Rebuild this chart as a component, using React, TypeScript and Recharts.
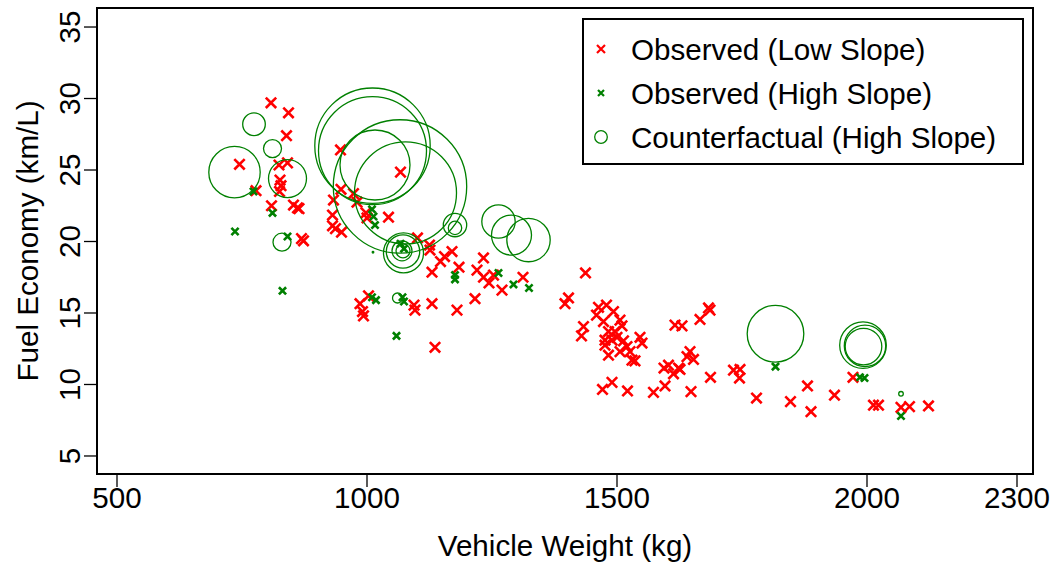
import React from 'react';
import { ScatterChart, Scatter, XAxis, YAxis, ReferenceArea, Legend } from 'recharts';

const RED = '#ff0000';
const GREEN = '#008000';
const FONT = '"Liberation Sans", Arial, Helvetica, sans-serif';
const FONT_SIZE = 29.6;

// Axis setup
const xTicks = [500, 1000, 1500, 2000, 2300];
const yTicks = [5, 10, 15, 20, 25, 30, 35];
const xDomain: [number, number] = [460, 2332];
const yDomain: [number, number] = [3.74, 36.33];

// Observed vehicles, low-slope group: [weight kg, fuel economy km/L]
const lowSlopeObserved: [number, number][] = [
  [808, 29.7], [843, 29.0], [839, 27.4], [947, 26.4], [745, 25.4], [824, 25.35], [841, 25.5],
  [1067, 24.85], [826, 24.3], [828, 23.9], [825, 23.5], [778, 23.55], [948, 23.65], [973, 23.35],
  [933, 22.9], [980, 22.75], [809, 22.5], [853, 22.55], [861, 22.35], [864, 22.3], [931, 21.85],
  [998, 22.0], [1000, 21.65], [1043, 21.7], [931, 21.1], [937, 20.9], [949, 20.65], [1101, 20.25],
  [869, 20.2], [873, 20.05],
  [1125, 19.75], [1126, 19.4], [1170, 19.3], [1155, 18.95], [1147, 18.6], [1233, 18.85], [1184, 18.2],
  [1130, 17.85], [1220, 18.0], [1233, 17.5], [1244, 17.1], [1253, 17.65], [1270, 16.6], [1312, 17.5],
  [1216, 16.0], [1180, 15.2], [1130, 15.65], [1094, 15.55], [1096, 15.2], [986, 15.65], [991, 15.1],
  [993, 14.8], [1003, 16.2], [1136, 12.6],
  [1437, 17.8], [1396, 15.65], [1403, 16.05], [1433, 14.05], [1429, 13.4], [1479, 15.55], [1463, 15.4],
  [1493, 15.1], [1459, 14.85], [1473, 14.4], [1506, 14.5], [1510, 14.1], [1496, 13.7], [1483, 13.7],
  [1476, 13.1], [1490, 13.1], [1500, 13.3], [1513, 13.05], [1476, 12.75], [1520, 12.65], [1483, 12.05],
  [1526, 12.3], [1530, 11.7], [1546, 13.3], [1550, 12.9], [1506, 12.3], [1536, 11.65],
  [1616, 14.15], [1630, 14.1], [1666, 14.55], [1683, 15.35], [1686, 15.2], [1646, 12.3], [1653, 11.75],
  [1640, 11.95], [1623, 11.15], [1603, 11.35], [1594, 11.15], [1613, 10.75], [1626, 11.05], [1596, 9.9],
  [1648, 9.5], [1573, 9.45], [1521, 9.55], [1490, 10.15], [1471, 9.65], [1687, 10.5], [1733, 11.0],
  [1746, 11.05], [1745, 10.45], [1779, 9.05],
  [1847, 8.8], [1881, 9.9], [1888, 8.1], [1935, 9.25], [1972, 10.5], [2013, 8.55], [2023, 8.55],
  [2068, 8.4], [2085, 8.45], [2123, 8.5],
];

// Observed vehicles, high-slope group: [weight kg, fuel economy km/L]
const highSlopeObserved: [number, number][] = [
  [773, 23.5], [811, 22.0], [1010, 22.25], [1013, 21.75], [1016, 21.15], [736, 20.7], [841, 20.35],
  [831, 16.55], [1067, 19.85], [1074, 19.5], [1176, 17.65], [1176, 17.35], [1263, 17.8], [1293, 17.0],
  [1324, 16.75], [1071, 16.1], [1074, 15.8], [1010, 16.1], [1018, 15.9], [1059, 13.4], [1817, 11.25],
  [1986, 10.5], [1995, 10.45], [2068, 7.8],
];

// Counterfactual outcomes, high-slope group: [weight kg, fuel economy km/L, bubble scale]
const highSlopeCounterfactual: [number, number, number][] = [
  [774, 28.2, 2.26], [811, 26.5, 1.8], [735, 24.85, 5.14], [841, 24.4, 3.8], [830, 19.95, 1.8],
  [1011, 26.7, 11.54], [1011, 26.35, 10.8], [1016, 25.35, 7.0], [1066, 23.85, 13.34], [1077, 23.4, 10.2],
  [1176, 21.15, 2.34], [1176, 20.95, 1.34], [1073, 19.2, 4.0], [1072, 19.3, 3.34], [1070, 19.35, 2.0],
  [1072, 19.35, 1.4], [1263, 21.4, 3.34], [1289, 20.45, 4.0], [1323, 20.1, 4.34], [1061, 16.05, 1.0],
  [1817, 13.55, 5.66], [1992, 12.75, 4.66], [1996, 12.7, 4.14], [1993, 12.65, 3.66], [2068, 9.35, 0.46],
  [1012, 19.25, 0.16],
];

const lowData = lowSlopeObserved.map(([w, e]) => ({ w, e }));
const highData = highSlopeObserved.map(([w, e]) => ({ w, e }));
const cfData = highSlopeCounterfactual.map(([w, e, s]) => ({ w, e, s }));

const BUBBLE_UNIT = 5;

const crossPath = (cx: number, cy: number, h: number) =>
  `M${cx - h},${cy - h}L${cx + h},${cy + h}M${cx - h},${cy + h}L${cx + h},${cy - h}`;

const RedCross = (p: any) => (
  <path d={crossPath(p.cx, p.cy, 5.2)} stroke={RED} strokeWidth={2.6} fill="none" />
);
const GreenCross = (p: any) => (
  <path d={crossPath(p.cx, p.cy, 3.6)} stroke={GREEN} strokeWidth={2.6} fill="none" />
);
const Bubble = (p: any) => (
  <circle cx={p.cx} cy={p.cy} r={Math.max(p.payload.s * BUBBLE_UNIT, 0.6)} fill="none" stroke={GREEN} strokeWidth={1.3} />
);

const XTick = (p: any) => (
  <text x={p.x} y={p.y + 21} textAnchor="middle" fontFamily={FONT} fontSize={FONT_SIZE} fill="#000">
    {p.payload.value}
  </text>
);

const YTick = (p: any) => {
  const bx = p.x - 4;
  return (
    <text x={bx} y={p.y} transform={`rotate(-90 ${bx} ${p.y})`} textAnchor="middle" fontFamily={FONT} fontSize={FONT_SIZE} fill="#000">
      {p.payload.value}
    </text>
  );
};

const XTitle = (p: any) => {
  const vb = p.viewBox || { x: 97, y: 474, width: 936, height: 92 };
  return (
    <text x={vb.x + vb.width / 2} y={vb.y + 82} textAnchor="middle" fontFamily={FONT} fontSize={FONT_SIZE} fill="#000">
      Vehicle Weight (kg)
    </text>
  );
};

const YTitle = (p: any) => {
  const vb = p.viewBox || { x: 0, y: 8, width: 97, height: 466 };
  const bx = vb.x + 38;
  const cy = vb.y + vb.height / 2;
  return (
    <text x={bx} y={cy} transform={`rotate(-90 ${bx} ${cy})`} textAnchor="middle" fontFamily={FONT} fontSize={FONT_SIZE} fill="#000">
      Fuel Economy (km/L)
    </text>
  );
};

const legendRows = [
  { label: 'Observed (Low Slope)', kind: 'low' },
  { label: 'Observed (High Slope)', kind: 'high' },
  { label: 'Counterfactual (High Slope)', kind: 'cf' },
];

const LegendBox = () => (
  <svg width={442} height={147} style={{ display: 'block' }}>
    <rect x={1} y={1} width={440} height={145} fill="#fff" stroke="#000" strokeWidth={2} />
    {legendRows.map((row, i) => {
      const cy = 31 + i * 44;
      let marker;
      if (row.kind === 'low') marker = <path d={crossPath(19, cy, 4)} stroke={RED} strokeWidth={2.2} fill="none" />;
      else if (row.kind === 'high') marker = <path d={crossPath(19, cy, 3)} stroke={GREEN} strokeWidth={2.2} fill="none" />;
      else marker = <circle cx={19} cy={cy} r={6.3} fill="none" stroke={GREEN} strokeWidth={1.3} />;
      return (
        <g key={row.label}>
          {marker}
          <text x={49} y={cy + 10.5} fontFamily={FONT} fontSize={FONT_SIZE} fill="#000">
            {row.label}
          </text>
        </g>
      );
    })}
  </svg>
);

export default function App() {
  return (
    <div style={{ position: 'absolute', left: 0, top: 0, width: 1058, height: 566, background: '#fff' }}>
      <ScatterChart width={1058} height={566} margin={{ top: 8, right: 25, bottom: 0, left: 0 }}>
        <XAxis
          type="number"
          dataKey="w"
          domain={xDomain}
          allowDataOverflow
          ticks={xTicks}
          interval={0}
          height={92}
          tickSize={13}
          tickMargin={0}
          axisLine={false}
          tickLine={{ stroke: '#000', strokeWidth: 1.3 }}
          tick={<XTick />}
          label={<XTitle />}
        />
        <YAxis
          type="number"
          dataKey="e"
          domain={yDomain}
          allowDataOverflow
          ticks={yTicks}
          interval={0}
          width={97}
          tickSize={13}
          tickMargin={0}
          axisLine={false}
          tickLine={{ stroke: '#000', strokeWidth: 1.3 }}
          tick={<YTick />}
          label={<YTitle />}
        />
        <ReferenceArea
          x1={xDomain[0]}
          x2={xDomain[1]}
          y1={yDomain[0]}
          y2={yDomain[1]}
          fill="none"
          stroke="#000"
          strokeWidth={2}
          ifOverflow="visible"
        />
        <Scatter name="Observed (Low Slope)" data={lowData} shape={<RedCross />} isAnimationActive={false} />
        <Scatter name="Observed (High Slope)" data={highData} shape={<GreenCross />} isAnimationActive={false} />
        <Scatter name="Counterfactual (High Slope)" data={cfData} shape={<Bubble />} isAnimationActive={false} />
        <Legend
          layout="vertical"
          align="center"
          verticalAlign="middle"
          content={<LegendBox />}
          wrapperStyle={{ left: 582, top: 18, width: 442, height: 147 }}
        />
      </ScatterChart>
    </div>
  );
}
